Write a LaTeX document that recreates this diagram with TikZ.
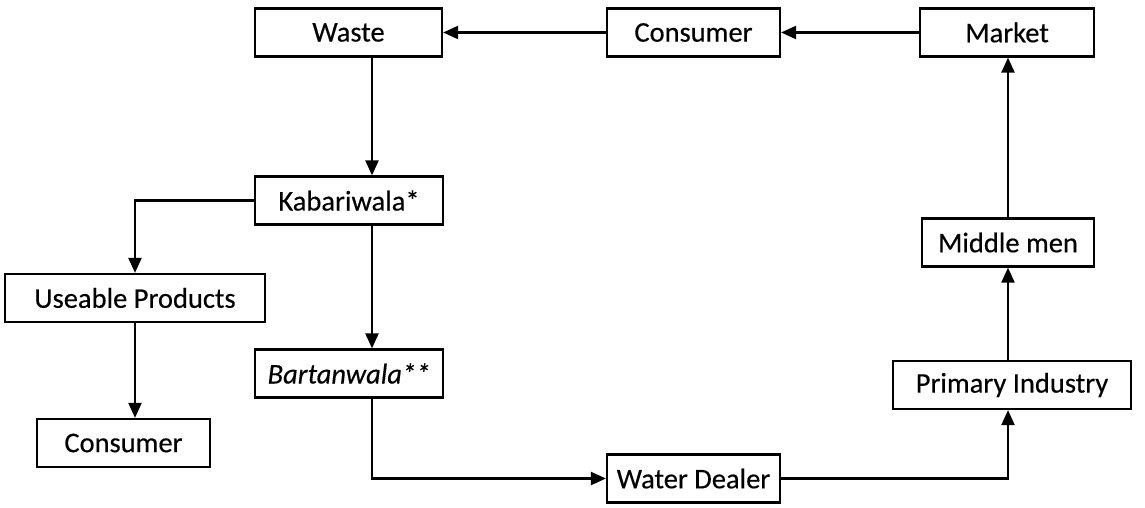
\documentclass[tikz,border=0pt]{standalone}
\usepackage{fontspec}
\setmainfont{Carlito}[FakeBold=0.3]
\usetikzlibrary{arrows.meta}
\begin{document}
\begin{tikzpicture}[x=1pt,y=-1pt,
  box/.style={draw, line width=2.2pt, minimum height=48pt, inner sep=0pt,
              font=\fontsize{28.5}{34}\selectfont, anchor=center},
  flow/.style={line width=2.2pt, -{Triangle[length=15pt,width=13pt]}}]
\useasboundingbox (0,0) rectangle (1145,508);
% columns used by the vertical connectors
\coordinate (colL) at (372,0);
\coordinate (colR) at (1008,0);
% boxes
\node[box, minimum width=187pt] (waste)  at (348.5,32.5) {Waste};
\node[box, minimum width=173pt] (cons)   at (693.5,32.5) {Consumer};
\node[box, minimum width=174pt] (market) at (1007,32.5)  {Market};
\node[box, minimum width=188pt] (kab)    at (349,200.5)  {Kabariwala*};
\node[box, minimum width=172pt] (mid)    at (1008,242.5) {Middle men};
\node[box, minimum width=260pt] (use)    at (135,298)    {Useable Products};
\node[box, minimum width=188pt] (bart)   at (349,373.5)  {\itshape Bartanwala**};
\node[box, minimum width=238pt] (prim)   at (1012,385)   {Primary Industry};
\node[box, minimum width=173pt] (cons2)  at (123.5,443)  {Consumer};
\node[box, minimum width=173pt] (water)  at (693.5,478.5){Water Dealer};
% connectors
\draw[flow] (market.west) -- (cons.east);
\draw[flow] (cons.west) -- (waste.east);
\draw[flow] (waste.south -| colL) -- (kab.north -| colL);
\draw[flow] (kab.west) -| (use.north);
\draw[flow] (kab.south -| colL) -- (bart.north -| colL);
\draw[flow] (use.south) -- (use.south |- cons2.north);
\draw[flow] (bart.south -| colL) |- (water.west);
\draw[flow] (water.east) -| (prim.south -| colR);
\draw[flow] (prim.north -| colR) -- (mid.south -| colR);
\draw[flow] (mid.north -| colR) -- (market.south -| colR);
\end{tikzpicture}
\end{document}
